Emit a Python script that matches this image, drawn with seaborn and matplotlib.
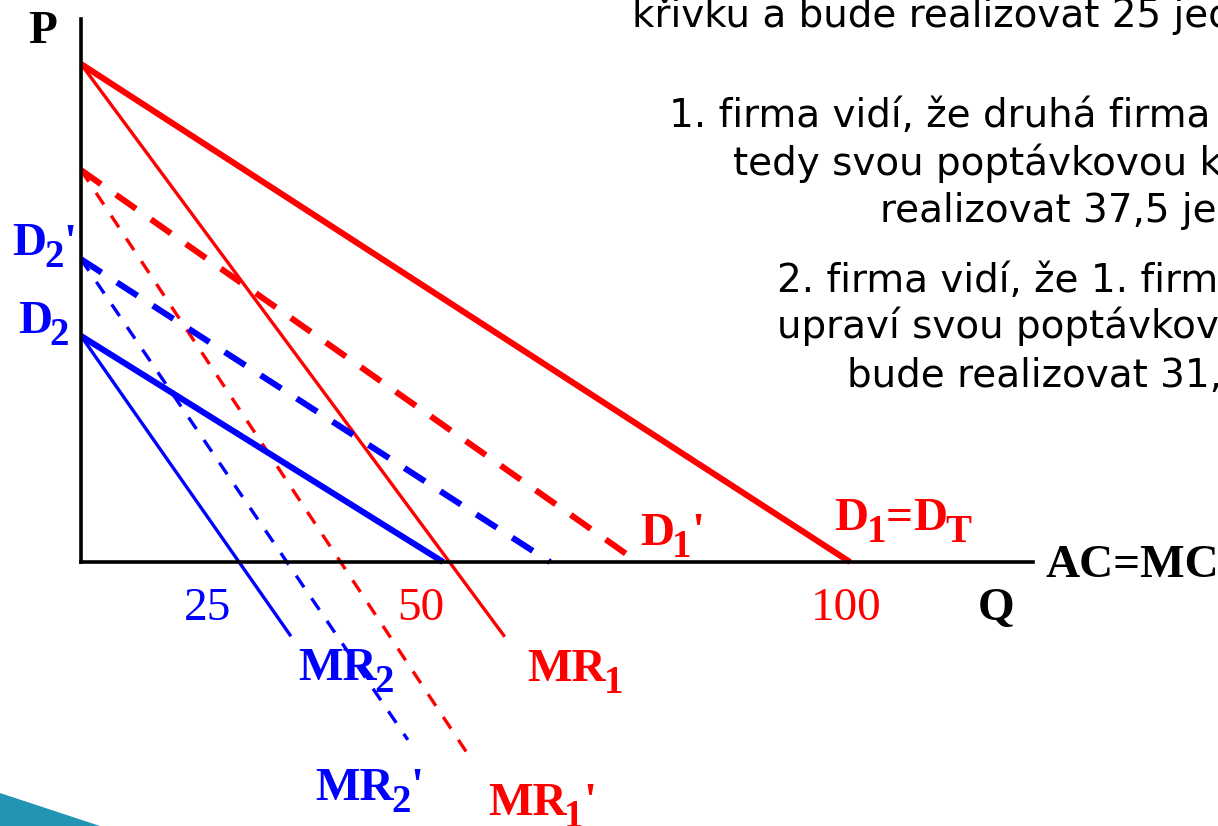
import matplotlib
matplotlib.use("Agg")
import matplotlib.pyplot as plt
from matplotlib.patches import Polygon
import pandas as pd
import seaborn as sns

# ------------------------------------------------------------ #
# data: demand / marginal revenue lines (Q, P), P of D_T at Q=0 is 100
# ------------------------------------------------------------ #
curves = ["D1", "MR1", "D1'", "MR1'", "D2'", "MR2'", "D2", "MR2"]
q_start = [0, 0, 0, 0, 0, 0, 0, 0]
p_start = [100, 100, 78.7, 78.7, 60.8, 60.8, 45.4, 45.4]
q_end = [100, 55.1, 72.4, 51.0, 61.0, 42.5, 47.1, 27.3]
p_end = [0, -15.0, 0, -40.2, 0, -35.7, 0, -14.9]

q_tick_labels = ["25", "50", "100"]

# visible part of the slide text (the rest runs off the slide edge)
notes = [
    "křivku a bude realizovat 25 jed",
    "1. firma vidí, že druhá firma",
    "tedy svou poptávkovou k",
    "realizovat 37,5 je",
    "2. firma vidí, že 1. firm",
    "upraví svou poptávkov",
    "bude realizovat 31,",
]

df = pd.DataFrame({
    "curve": curves * 2,
    "Q": q_start + q_end,
    "P": p_start + p_end,
})

# styles
RED, BLUE = "#ff0000", "#0000ff"
palette = {"D1": RED, "MR1": RED, "D1'": RED, "MR1'": RED,
           "D2'": BLUE, "MR2'": BLUE, "D2": BLUE, "MR2": BLUE}
widths = {"D1": 4.4, "MR1": 2.4, "D1'": 4.4, "MR1'": 2.4,
          "D2'": 4.4, "MR2'": 2.4, "D2": 4.4, "MR2": 2.4}
dashes = {"D1": "", "MR1": "", "D1'": (4.0, 3.0), "MR1'": (4.2, 4.0),
          "D2'": (4.0, 3.0), "MR2'": (4.2, 4.0), "D2": "", "MR2": ""}

fig = plt.figure(figsize=(12.18, 8.26), dpi=100)
ax = fig.add_axes([0, 0, 1, 1])

sns.lineplot(data=df, x="Q", y="P", hue="curve", style="curve", size="curve",
             palette=palette, sizes=widths, dashes=dashes, estimator=None,
             sort=False, legend=False, ax=ax)
for ln in ax.get_lines():
    ln.set_dash_capstyle("butt")
    ln.set_solid_capstyle("butt")

ax.set_xlim(-10.53, 147.85)
ax.set_ylim(-53.0, 112.85)

# axes lines
for side in ["top", "right"]:
    ax.spines[side].set_visible(False)
ax.spines["left"].set_position(("data", 0))
ax.spines["bottom"].set_position(("data", 0))
ax.spines["left"].set_bounds(0, 109.0)
ax.spines["bottom"].set_bounds(0, 123.8)
for side in ["left", "bottom"]:
    ax.spines[side].set_linewidth(2.6)
    ax.spines[side].set_color("black")
    ax.spines[side].set_capstyle("projecting")
ax.set_xticks([])
ax.set_yticks([])
ax.set_xlabel("")
ax.set_ylabel("")
ax.patch.set_visible(False)

# labels with big, dropped subscripts (slide style)
BASE, SUB = 34, 28
DROP = 12          # px, subscript baseline below the main baseline
DESC = 0.217       # descent of the serif face, fraction of em


def em_px(fs):
    return fs * 100 / 72


def label(x, y, parts, color):
    prev = ax.text(x, y, parts[0][0], color=color, fontsize=BASE,
                   family="Liberation Serif", fontweight="bold",
                   ha="left", va="baseline")
    prev_fs, prev_sub = BASE, False
    for s, sub in parts[1:]:
        fs = SUB if sub else BASE
        dy = DESC * em_px(prev_fs) - (DROP if sub else 0) + (DROP if prev_sub else 0)
        gap = -1.5 if sub else 0.0
        prev = ax.annotate(s, xy=(1, 0), xycoords=prev, xytext=(gap, dy * 0.72),
                           textcoords="offset points", color=color, fontsize=fs,
                           family="Liberation Serif", fontweight="bold",
                           ha="left", va="baseline")
        prev_fs, prev_sub = fs, sub


label(-6.9, 104.2, [("P", False)], "black")
label(-8.97, 61.6, [("D", False), ("2", True), ("'", False)], BLUE)
label(-8.2, 46.0, [("D", False), ("2", True)], BLUE)
label(72.7, 3.4, [("D", False), ("1", True), ("'", False)], RED)
label(98.0, 6.4, [("D", False), ("1", True), ("=", False), ("D", False), ("T", True)], RED)
label(125.4, -3.0, [("AC=MC", False)], "black")
label(116.6, -11.6, [("Q", False)], "black")
label(28.2, -23.7, [("MR", False), ("2", True)], BLUE)
label(58.0, -23.9, [("MR", False), ("1", True)], RED)
label(30.4, -47.8, [("MR", False), ("2", True), ("'", False)], BLUE)
label(52.9, -50.8, [("MR", False), ("1", True), ("'", False)], RED)

# quantity tick labels
tick_colors = [BLUE, RED, RED]
tick_pos = [16.5, 44.2, 99.5]
for pos, txt, c in zip(tick_pos, q_tick_labels, tick_colors):
    ax.text(pos, -11.6, txt, color=c, ha="center", va="baseline",
            family="Liberation Serif", fontsize=34)

# explanatory text at the right edge of the slide
note_x = [632, 669, 733, 880, 777, 777, 847]
note_y = [27, 127, 175, 222, 292, 338, 387]
for x, y, t in zip(note_x, note_y, notes):
    fig.text(x / 1218, 1 - y / 826, t, ha="left", va="baseline",
             family="DejaVu Sans", fontsize=28, color="black")

# slide decoration, bottom-left corner
fig.patches.append(Polygon([[0, 1 - 793 / 826], [100 / 1218, 0], [0, 0]],
                           closed=True, transform=fig.transFigure,
                           facecolor="#2394b4", edgecolor="none"))

fig.savefig("out.png", dpi=100)
